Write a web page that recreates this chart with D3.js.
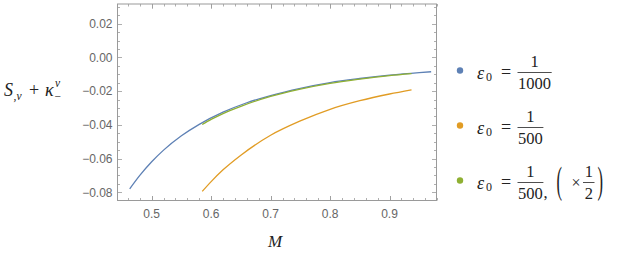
<!DOCTYPE html>
<html>
<head>
<meta charset="utf-8">
<script src="https://cdn.jsdelivr.net/npm/d3@7"></script>
<style>
  body { margin: 0; background: #fff; }
  svg { display: block; }
</style>
</head>
<body>
<div id="chart"></div>
<script>
// values: M and S_{,v} + kappa
var blueM   = [0.463, 0.48, 0.50, 0.52, 0.55, 0.58, 0.62, 0.66, 0.70, 0.75, 0.80, 0.85, 0.90, 0.95, 0.97]
var blueV   = [-0.0780, -0.0700, -0.0619, -0.0550, -0.0465, -0.0397, -0.0325, -0.0269, -0.0226, -0.0183, -0.0149, -0.0125, -0.0105, -0.0090, -0.0085]
var orangeM = [0.585, 0.60, 0.62, 0.65, 0.70, 0.75, 0.80, 0.85, 0.90, 0.937]
var orangeV = [-0.0795, -0.0737, -0.0667, -0.0580, -0.0462, -0.0377, -0.0308, -0.0257, -0.0217, -0.0192]
var greenM  = [0.585, 0.60, 0.62, 0.65, 0.70, 0.75, 0.80, 0.85, 0.90, 0.937]
var greenV  = [-0.0398, -0.0368, -0.0333, -0.0290, -0.0231, -0.0188, -0.0154, -0.0129, -0.0108, -0.0096]

var seriesNames = ['1000', '500', '500']
var colors = ['#5e81b5', '#e19c24', '#8fb032']

var width = 620, height = 256
var pLeft = 117.5, pRight = 436.5, pTop = 4, pBottom = 200.5

var svg = d3.select('#chart').append('svg')
    .attr('width', width)
    .attr('height', height)

var x = d3.scaleLinear().domain([0.4425, 0.979]).range([pLeft, pRight])
var y = d3.scaleLinear().domain([-0.0849, 0.0317]).range([pBottom, pTop])

var frameCol = '#9a9a9a'
var labelCol = '#666'

// frame
svg.append('rect')
    .attr('x', pLeft).attr('y', pTop)
    .attr('width', pRight - pLeft).attr('height', pBottom - pTop)
    .attr('fill', 'none').attr('stroke', frameCol).attr('stroke-width', 1)

// ticks (inward, on all four sides)
var xMajor = x.ticks(5)
var xMinor = d3.range(23, 50).map(i => +(i * 0.02).toFixed(2))
var yMajor = d3.range(-4, 2).map(i => +(i * 0.02).toFixed(2))
var yMinor = d3.range(-16, 7).map(i => +(i * 0.005).toFixed(3))

var isMajorX = v => xMajor.some(t => Math.abs(t - v) < 1e-6)
var isMajorY = v => yMajor.some(t => Math.abs(t - v) < 1e-6)

var ticks = svg.append('g').attr('stroke', frameCol).attr('stroke-width', 0.8)

xMinor.concat(xMajor).forEach(function(v) {
    var len = isMajorX(v) ? 4.5 : 2.5
    var px = Math.round(x(v)) + 0.5
    ticks.append('line').attr('x1', px).attr('x2', px).attr('y1', pBottom).attr('y2', pBottom - len)
    ticks.append('line').attr('x1', px).attr('x2', px).attr('y1', pTop).attr('y2', pTop + len)
})
yMinor.forEach(function(v) {
    var len = isMajorY(v) ? 4.5 : 2.5
    var py = Math.round(y(v)) + 0.5
    ticks.append('line').attr('y1', py).attr('y2', py).attr('x1', pLeft).attr('x2', pLeft + len)
    ticks.append('line').attr('y1', py).attr('y2', py).attr('x1', pRight).attr('x2', pRight - len)
})

// tick labels
svg.append('g')
    .attr('font-family', 'Liberation Sans, Arial, sans-serif')
    .attr('font-size', 12)
    .attr('fill', labelCol)
    .selectAll('text')
    .data(xMajor)
    .join('text')
    .attr('x', d => x(d))
    .attr('y', pBottom + 17)
    .attr('text-anchor', 'middle')
    .text(d3.format('.1f'))

svg.append('g')
    .attr('font-family', 'Liberation Sans, Arial, sans-serif')
    .attr('font-size', 12)
    .attr('fill', labelCol)
    .selectAll('text')
    .data(yMajor)
    .join('text')
    .attr('x', pLeft - 5)
    .attr('y', d => y(d))
    .attr('dy', '0.36em')
    .attr('text-anchor', 'end')
    .text(d3.format('.2f'))

// curves
var line = d3.line()
    .x(d => x(d[0]))
    .y(d => y(d[1]))
    .curve(d3.curveMonotoneX)

var series = [
    d3.zip(blueM, blueV),
    d3.zip(orangeM, orangeV),
    d3.zip(greenM, greenV)
]

svg.append('g')
    .attr('fill', 'none')
    .attr('stroke-width', 1.3)
    .selectAll('path')
    .data(series)
    .join('path')
    .attr('stroke', (d, i) => colors[i])
    .attr('d', line)

// axis labels
var serif = 'Liberation Serif, Times New Roman, serif'

svg.append('text')
    .attr('x', 275).attr('y', 247)
    .attr('font-family', serif).attr('font-style', 'italic').attr('font-size', 17)
    .attr('text-anchor', 'middle')
    .attr('fill', '#222')
    .text('M')

var yl = svg.append('g').attr('font-family', serif).attr('fill', '#222')
yl.append('text').attr('x', 4).attr('y', 96).attr('font-size', 18).attr('font-style', 'italic').text('S')
yl.append('text').attr('x', 13.5).attr('y', 100).attr('font-size', 11.5).attr('font-style', 'italic').text(',v')
yl.append('text').attr('x', 29).attr('y', 96).attr('font-size', 18).text('+')
yl.append('text').attr('x', 45).attr('y', 96).attr('font-size', 18).attr('font-style', 'italic').text('κ')
yl.append('text').attr('x', 55).attr('y', 87).attr('font-size', 11.5).attr('font-style', 'italic').text('v')
yl.append('text').attr('x', 54.5).attr('y', 100).attr('font-size', 11.5).text('−')

// legend
var legRows = [72, 127, 182]

var leg = svg.append('g').attr('font-family', serif).attr('fill', '#222')

seriesNames.forEach(function(den, i) {
    var by = legRows[i]
    leg.append('circle').attr('cx', 460).attr('cy', by - 1.5).attr('r', 3.2).attr('fill', colors[i])
    leg.append('text').attr('x', 477).attr('y', by + 6.5).attr('font-size', 18).attr('font-style', 'italic').text('ε')
    leg.append('text').attr('x', 486).attr('y', by + 9).attr('font-size', 12).text('0')
    leg.append('text').attr('x', 506).attr('y', by + 6).attr('font-size', 18).attr('text-anchor', 'middle').text('=')

    var fx = 517.5
    var tw = den.length * 8.3
    leg.append('line')
        .attr('x1', fx).attr('x2', fx + tw + 1)
        .attr('y1', by + 0.5).attr('y2', by + 0.5)
        .attr('stroke', '#222').attr('stroke-width', 0.8)
    leg.append('text').attr('x', fx + tw / 2 + 0.5).attr('y', by - 5.5)
        .attr('font-size', 16.5).attr('text-anchor', 'middle').text('1')
    leg.append('text').attr('x', fx + tw / 2 + 0.5).attr('y', by + 16.5)
        .attr('font-size', 16.5).attr('text-anchor', 'middle').text(den)

    if (i == 2) {
        leg.append('text').attr('x', fx + tw + 1).attr('y', by + 16).attr('font-size', 16.5).text(',')
        leg.append('text').attr('x', 556.5).attr('y', 0)
            .attr('transform', 'translate(0,' + (by + 11) + ') scale(1,2.25)')
            .attr('font-size', 16.5).text('(')
        leg.append('text').attr('x', 576).attr('y', by + 5.5)
            .attr('font-size', 16).attr('text-anchor', 'middle').text('×')
        leg.append('line')
            .attr('x1', 583).attr('x2', 594.5)
            .attr('y1', by + 0.5).attr('y2', by + 0.5)
            .attr('stroke', '#222').attr('stroke-width', 0.8)
        leg.append('text').attr('x', 588.8).attr('y', by - 5.5)
            .attr('font-size', 16.5).attr('text-anchor', 'middle').text('1')
        leg.append('text').attr('x', 588.8).attr('y', by + 16.5)
            .attr('font-size', 16.5).attr('text-anchor', 'middle').text('2')
        leg.append('text').attr('x', 597.5).attr('y', 0)
            .attr('transform', 'translate(0,' + (by + 11) + ') scale(1,2.25)')
            .attr('font-size', 16.5).text(')')
    }
})
</script>
</body>
</html>
